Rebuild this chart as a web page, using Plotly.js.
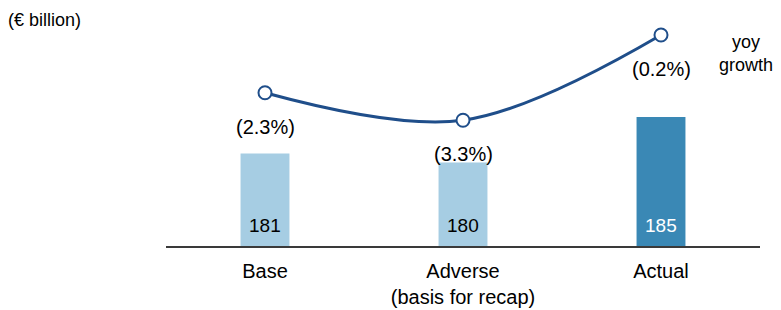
<!DOCTYPE html>
<html>
<head>
<meta charset="utf-8">
<script src="https://cdn.plot.ly/plotly-3.0.1.min.js"></script>
<style>html,body{margin:0;padding:0;background:#fff;}#chart{width:781px;height:310px;}</style>
</head>
<body>
<div id="chart"></div>
<script>
const categories = ['Base', 'Adverse<br>(basis for recap)', 'Actual'];
const barValues = [181, 180, 185];
const barLabels = ['181', '180', '185'];
const growthValues = [-2.3, -3.3, -0.2];
const growthLabels = ['(2.3%)', '(3.3%)', '(0.2%)'];
const barColors = ['#a6cde3', '#a6cde3', '#3a88b5'];
const barTextColors = ['#000000', '#000000', '#ffffff'];

const FONT = 'Liberation Sans, Arial, sans-serif';

const traces = [
  {
    type: 'bar',
    x: categories,
    y: barValues,
    marker: {color: barColors},
    hoverinfo: 'skip',
    showlegend: false
  },
  {
    type: 'scatter',
    mode: 'lines+markers',
    x: categories,
    y: growthValues,
    yaxis: 'y2',
    line: {color: '#1f4e8a', width: 3, shape: 'spline', smoothing: 1},
    marker: {size: 13, color: '#ffffff', line: {color: '#1f4e8a', width: 2}},
    hoverinfo: 'skip',
    showlegend: false,
    cliponaxis: false
  }
];

const annotations = [];
categories.forEach((c, i) => {
  annotations.push({
    x: c, xref: 'x', y: growthValues[i], yref: 'y2',
    text: growthLabels[i], showarrow: false, yshift: -34,
    yanchor: 'middle', font: {family: FONT, size: 20, color: '#000000'}
  });
  annotations.push({
    x: c, xref: 'x', y: 0, yref: 'paper',
    text: barLabels[i], showarrow: false, yshift: 21,
    yanchor: 'middle', font: {family: FONT, size: 19, color: barTextColors[i]}
  });
});
annotations.push({
  x: -0.2694, xref: 'paper', y: 0.958, yref: 'paper',
  xanchor: 'left', yanchor: 'middle', showarrow: false,
  text: '(€ billion)', font: {family: FONT, size: 18, color: '#000000'}
});
annotations.push({
  x: 0.976, xref: 'paper', y: 0.8136, yref: 'paper',
  xanchor: 'center', yanchor: 'middle', showarrow: false, align: 'center',
  text: 'yoy<br>growth', font: {family: FONT, size: 18, color: '#000000'}
});

const layout = {
  width: 781, height: 310,
  margin: {l: 166, r: 21, t: 10, b: 64},
  paper_bgcolor: '#ffffff', plot_bgcolor: '#ffffff',
  font: {family: FONT, size: 20, color: '#000000'},
  bargap: 0.753,
  xaxis: {
    type: 'category', showgrid: false, zeroline: false,
    showline: true, linecolor: '#3a3a3a', linewidth: 2,
    ticks: '', automargin: false, ticklabelstandoff: 6,
    tickfont: {family: FONT, size: 20, color: '#000000'}
  },
  yaxis: {
    range: [170.8, 196.8], visible: false, showgrid: false, zeroline: false, fixedrange: true
  },
  yaxis2: {
    range: [-7.873, 0.709], overlaying: 'y', visible: false, showgrid: false, zeroline: false
  },
  annotations: annotations
};

Plotly.newPlot('chart', traces, layout, {displayModeBar: false, staticPlot: true});
</script>
</body>
</html>
